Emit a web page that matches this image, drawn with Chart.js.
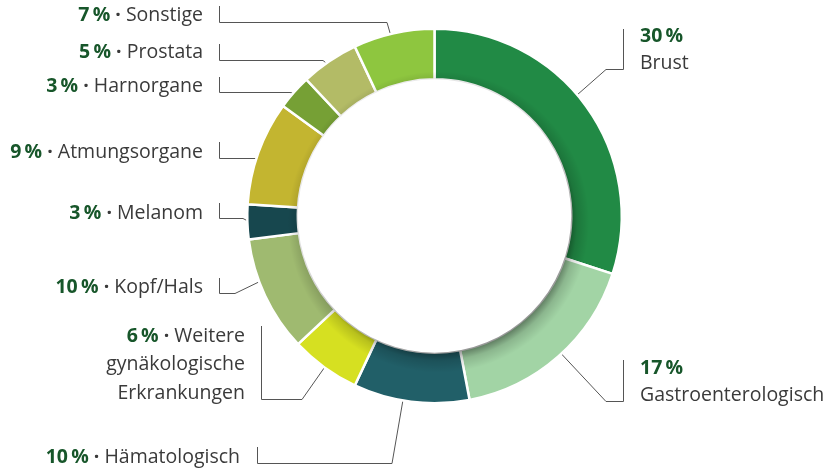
<!DOCTYPE html>
<html lang="de">
<head>
    <meta charset="UTF-8">
    <title>Krebsarten</title>
    <script src="https://cdn.jsdelivr.net/npm/chart.js"></script>
    <style>
        body {
            margin: 0;
            background: #fff;
        }
        #wrap {
            width: 827px;
            height: 473px;
            position: relative;
        }
    </style>
</head>
<body>
    <div id="wrap"><canvas id="ring"></canvas></div>

    <script>
        // Daten (Uhrzeigersinn ab 12 Uhr)
        const categories = ['Brust', 'Gastroenterologisch', 'Hämatologisch', 'Weitere gynäkologische Erkrankungen',
            'Kopf/Hals', 'Melanom', 'Atmungsorgane', 'Harnorgane', 'Prostata', 'Sonstige'];
        const shares = [30, 17, 10, 6, 10, 3, 9, 3, 5, 7];
        const labelLines = [
            ['Brust'],
            ['Gastroenterologisch'],
            ['Hämatologisch'],
            ['Weitere', 'gynäkologische', 'Erkrankungen'],
            ['Kopf/Hals'],
            ['Melanom'],
            ['Atmungsorgane'],
            ['Harnorgane'],
            ['Prostata'],
            ['Sonstige']
        ];
        const colors = ['#218a45', '#a2d4a5', '#215f68', '#d6e021', '#9fba70',
            '#17474e', '#c3b530', '#76a035', '#b3bb66', '#8ec63f'];

        // Lage der Beschriftungen und Führungslinien (at = Ankerpunkt im Segment)
        const layout = [
            { side: 'right', tx: 640, ty: 36, lx: 623, top: 29, bottom: 69, elbow: 606, at: 0.46 },
            { side: 'right', tx: 640, ty: 368, lx: 623, top: 360, bottom: 401, elbow: 606, at: 0.48 },
            { side: 'left', tx: 240, ty: 457, lx: 257, top: 447, bottom: 463, elbow: 392, at: 0.57 },
            { side: 'left', tx: 245, ty: 336, lx: 261, top: 326, bottom: 399, elbow: 302, at: 0.5 },
            { side: 'left', tx: 203, ty: 287, lx: 219, top: 278, bottom: 293, elbow: 235, at: 0.63 },
            { side: 'left', tx: 203, ty: 213, lx: 219, top: 203, bottom: 218, elbow: 243, at: 0.5 },
            { side: 'left', tx: 203, ty: 152, lx: 219, top: 142, bottom: 158, elbow: 256, at: 0.5 },
            { side: 'left', tx: 203, ty: 86, lx: 219, top: 77, bottom: 92, elbow: 290, at: 0.5 },
            { side: 'left', tx: 203, ty: 52, lx: 219, top: 44, bottom: 60, elbow: 323, at: 0.45 },
            { side: 'left', tx: 203, ty: 15, lx: 219, top: 6, bottom: 22, elbow: 387, at: 0.46 }
        ];

        const FONT = '"Open Sans", "Noto Sans", sans-serif';
        const SIZE = 19.5;
        const PCT_COLOR = '#17562a';
        const TEXT_COLOR = '#3a3a3a';
        const LINE_H = 28.5;

        function pctText(v) {
            return v + '\u2009%';
        }

        // Führungslinien hinter dem Ring
        const leaderLines = {
            id: 'leaderLines',
            beforeDatasetsDraw(chart) {
                const ctx = chart.ctx;
                const arcs = chart.getDatasetMeta(0).data;
                ctx.save();
                ctx.strokeStyle = '#555';
                ctx.lineWidth = 1;
                arcs.forEach((arc, i) => {
                    const p = arc.getProps(['x', 'y', 'startAngle', 'endAngle', 'outerRadius'], true);
                    const L = layout[i];
                    const a = p.startAngle + (p.endAngle - p.startAngle) * L.at;
                    const ex = p.x + Math.cos(a) * (p.outerRadius - 2);
                    const ey = p.y + Math.sin(a) * (p.outerRadius - 2);
                    ctx.beginPath();
                    ctx.moveTo(L.lx + 0.5, L.top);
                    ctx.lineTo(L.lx + 0.5, L.bottom + 0.5);
                    ctx.lineTo(L.elbow, L.bottom + 0.5);
                    ctx.lineTo(ex, ey);
                    ctx.stroke();
                });
                ctx.restore();
            },
            afterDatasetsDraw(chart) {
                // leichter Innenschatten am Lochrand, nach rechts unten stärker
                const ctx = chart.ctx;
                const arc = chart.getDatasetMeta(0).data[0];
                const p = arc.getProps(['x', 'y', 'innerRadius', 'outerRadius'], true);
                ctx.save();
                ctx.beginPath();
                ctx.arc(p.x, p.y, p.outerRadius, 0, Math.PI * 2);
                ctx.arc(p.x, p.y, p.innerRadius, 0, Math.PI * 2, true);
                ctx.clip();
                const gx = p.x + 4, gy = p.y + 6;
                const g = ctx.createRadialGradient(gx, gy, p.innerRadius - 6, gx, gy, p.innerRadius + 14);
                g.addColorStop(0, 'rgba(0,0,0,0.4)');
                g.addColorStop(0.4, 'rgba(0,0,0,0.14)');
                g.addColorStop(1, 'rgba(0,0,0,0)');
                ctx.fillStyle = g;
                ctx.fillRect(p.x - p.outerRadius, p.y - p.outerRadius, p.outerRadius * 2, p.outerRadius * 2);
                ctx.restore();

                // Beschriftungen
                ctx.save();
                ctx.textBaseline = 'middle';
                const bold = '700 ' + SIZE + 'px ' + FONT;
                const reg = '400 ' + SIZE + 'px ' + FONT;
                shares.forEach((v, i) => {
                    const L = layout[i];
                    const lines = labelLines[i];
                    if (L.side === 'right') {
                        ctx.textAlign = 'left';
                        ctx.font = bold;
                        ctx.fillStyle = PCT_COLOR;
                        ctx.fillText(pctText(v), L.tx, L.ty);
                        ctx.font = reg;
                        ctx.fillStyle = TEXT_COLOR;
                        lines.forEach((t, k) => ctx.fillText(t, L.tx, L.ty + LINE_H * (k + 1) - 1));
                    } else {
                        ctx.textAlign = 'right';
                        ctx.font = reg;
                        ctx.fillStyle = TEXT_COLOR;
                        lines.forEach((t, k) => ctx.fillText(t, L.tx, L.ty + LINE_H * k));
                        const wFirst = ctx.measureText(lines[0]).width;
                        const wGap = ctx.measureText(' ').width;
                        ctx.font = bold;
                        const wDot = ctx.measureText('\u00b7').width;
                        ctx.fillText('\u00b7', L.tx - wFirst - wGap, L.ty);
                        ctx.fillStyle = PCT_COLOR;
                        ctx.fillText(pctText(v), L.tx - wFirst - wGap * 2 - wDot, L.ty);
                    }
                });
                ctx.restore();
            }
        };

        new Chart(document.getElementById('ring'), {
            type: 'doughnut',
            data: {
                labels: categories,
                datasets: [{
                    data: shares,
                    backgroundColor: colors,
                    borderColor: '#ffffff',
                    borderWidth: 2.5,
                    hoverOffset: 0
                }]
            },
            options: {
                responsive: true,
                maintainAspectRatio: false,
                animation: false,
                cutout: '73%',
                layout: {
                    padding: { top: 27.5, bottom: 68.5, left: 246, right: 204 }
                },
                plugins: {
                    legend: { display: false },
                    tooltip: { enabled: false }
                }
            },
            plugins: [leaderLines]
        });
    </script>
</body>
</html>
